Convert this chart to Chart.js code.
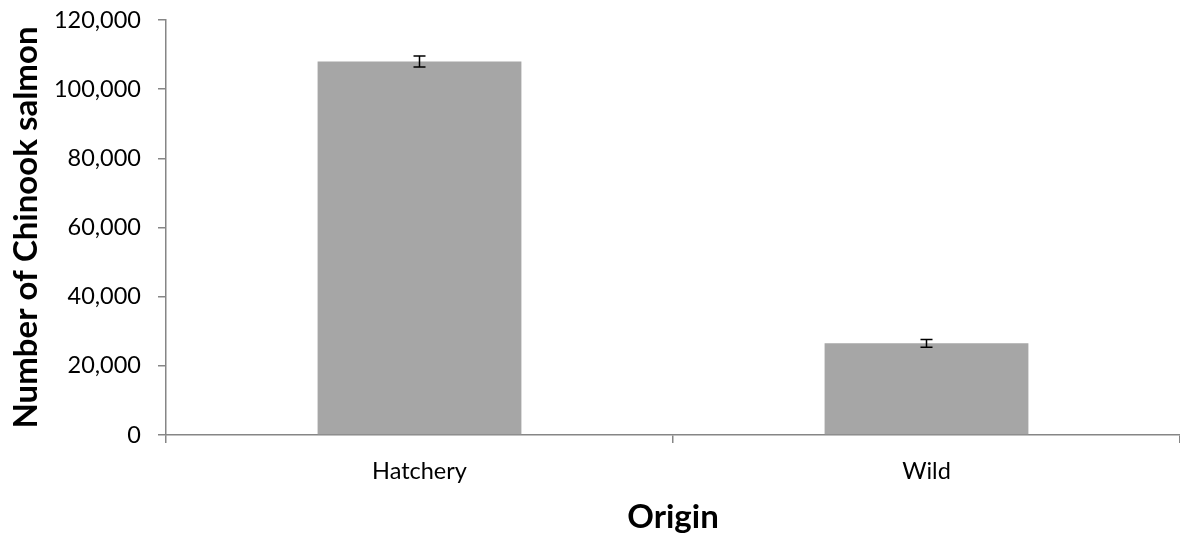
<!DOCTYPE html>
<html>
<head>
<meta charset="utf-8">
<script src="https://cdn.jsdelivr.net/npm/chart.js@4.4.0/dist/chart.umd.min.js"></script>
<style>
  body { margin: 0; background: #fff; }
  #wrap { width: 1180px; height: 540px; }
</style>
</head>
<body>
<div id="wrap"><canvas id="myChart" width="1180" height="540"></canvas></div>
<script>
// Daten
const categories = ["Hatchery", "Wild"]
const counts = [108000, 26500]
const errors = [1600, 1100]
const yTicks = [0, 20000, 40000, 60000, 80000, 100000, 120000]

const FONT = "Lato, 'Open Sans', sans-serif"
const AXIS_GREY = "#868686"

// Fehlerbalken selbst zeichnen
const errorBars = {
    id: "errorBars",
    afterDatasetsDraw(chart) {
        const ctx = chart.ctx
        const yScale = chart.scales.y
        const meta = chart.getDatasetMeta(0)
        ctx.save()
        ctx.strokeStyle = "#000"
        ctx.lineWidth = 1.5
        meta.data.forEach((bar, i) => {
            const x = bar.x
            const yHi = yScale.getPixelForValue(counts[i] + errors[i])
            const yLo = yScale.getPixelForValue(counts[i] - errors[i])
            ctx.beginPath()
            ctx.moveTo(x, yHi); ctx.lineTo(x, yLo)
            ctx.moveTo(x - 6, yHi); ctx.lineTo(x + 6, yHi)
            ctx.moveTo(x - 6, yLo); ctx.lineTo(x + 6, yLo)
            ctx.stroke()
        })
        ctx.restore()
    }
}

const chart = new Chart(document.getElementById("myChart"), {
    type: "bar",
    data: {
        labels: categories,
        datasets: [{
            data: counts,
            backgroundColor: "#a6a6a6",
            barPercentage: 0.402,
            categoryPercentage: 1
        }]
    },
    options: {
        responsive: false,
        animation: false,
        layout: { padding: { top: 0, right: 0, left: 0, bottom: 0 } },
        plugins: { legend: { display: false }, tooltip: { enabled: false } },
        scales: {
            y: {
                min: 0,
                max: 120000,
                afterBuildTicks: axis => { axis.ticks = yTicks.map(v => ({ value: v })) },
                afterFit: axis => {
                    axis.width = 166
                    axis.paddingTop = 20
                    axis.paddingBottom = 0
                },
                ticks: {
                    color: "#000",
                    font: { family: FONT, size: 23.5 },
                    padding: 17,
                    callback: v => v.toLocaleString("en-US")
                },
                grid: { drawOnChartArea: false, tickLength: 8, color: AXIS_GREY, lineWidth: 1.5 },
                border: { color: AXIS_GREY, width: 1.5 },
                title: {
                    display: true,
                    text: "Number of Chinook salmon",
                    color: "#000",
                    font: { family: FONT, size: 33, weight: "bold" },
                    padding: { top: 7, bottom: 7 }
                }
            },
            x: {
                offset: true,
                afterFit: axis => { axis.height = 105 },
                ticks: {
                    color: "#000",
                    font: { family: FONT, size: 23.5 },
                    padding: 14
                },
                grid: { offset: true, drawOnChartArea: false, tickLength: 8, color: AXIS_GREY, lineWidth: 1.5 },
                border: { color: AXIS_GREY, width: 1.5 },
                title: {
                    display: true,
                    text: "Origin",
                    color: "#000",
                    font: { family: FONT, size: 33, weight: "bold" },
                    padding: { top: 3, bottom: 3 }
                }
            }
        }
    },
    plugins: [errorBars]
})
</script>
</body>
</html>
